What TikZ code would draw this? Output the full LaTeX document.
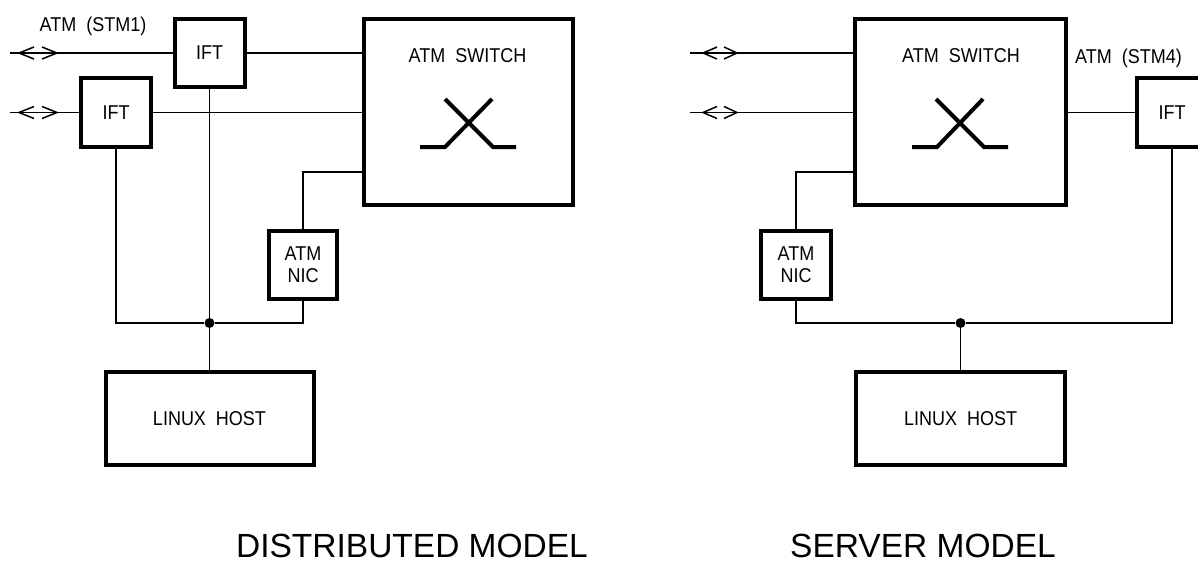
\documentclass[tikz,border=0pt]{standalone}
\usepackage{fontspec}
\setmainfont{Liberation Sans}
\newfontfamily\cadfont{Liberation Sans}[FakeStretch=0.9]
\begin{document}
\begin{tikzpicture}[x=1pt,y=-1pt,
  wire/.style={line width=1.7pt},
  box/.style={draw, rectangle, line width=4pt, inner sep=0pt, align=center,
    font=\cadfont\fontsize{20}{22}\selectfont},
  swbox/.style={draw, rectangle, line width=3.5pt, inner sep=0pt},
  dot/.style={circle, fill, inner sep=0pt, minimum size=10pt},
  xsym/.style={line width=4pt, line cap=butt, line join=miter},
  chev/.style={line width=1.5pt},
  lbl/.style={inner sep=0pt, font=\cadfont\fontsize{20}{22}\selectfont},
  ttl/.style={inner sep=0pt, font=\fontsize{33.5}{36}\selectfont}]
\useasboundingbox (0,0) rectangle (1198,562);
\clip (0,0) rectangle (1198,562);
\fill[white] (0,0) rectangle (1198,562);
\coordinate (y172) at (0,172);
\coordinate (y323) at (0,323);
% ---------- distributed model ----------
\node[box, minimum width=70pt, minimum height=68pt] (ift1) at (209.5,53) {IFT};
\node[box, minimum width=70pt, minimum height=69pt] (ift2) at (116,112.5) {IFT};
\node[swbox, minimum width=209pt, minimum height=186pt] (sw1) at (468.5,112) {};
\node[box, minimum width=68pt, minimum height=68pt] (nic1) at (303,265) {ATM\\NIC};
\node[box, minimum width=208pt, minimum height=93pt] (host1) at (209.5,418.5) {LINUX~~HOST};
\node[dot] (jd1) at (ift1.south |- y323) {};
\coordinate (la1) at (10,53);
\coordinate (la2) at (10,112.5);
\draw[wire] (la1) -- (ift1.west);
\draw[wire] (la2) -- (ift2.west);
\draw[chev, shift={(la1)}] (24,-6) -- (9,0) -- (24,6) (32,-6) -- (47,0) -- (32,6);
\draw[chev, shift={(la2)}] (24,-6) -- (9,0) -- (24,6) (32,-6) -- (47,0) -- (32,6);
\draw[wire] (ift1.east) -- (ift1.east -| sw1.west);
\draw[wire] (ift2.east) -- (ift2.east -| sw1.west);
\draw[wire] (nic1.north) |- (sw1.west |- y172);
\draw[wire] (ift2.south) |- (jd1);
\draw[wire] (nic1.south) |- (jd1);
\draw[wire] (ift1.south) -- (jd1) -- (host1.north);
\draw[xsym, shift={(sw1.center)}] (-48.5,35) -- (-23.5,35) -- (23.5,-13)
   (-23.5,-13) -- (24.5,35) -- (47.5,35);
\node[lbl, anchor=base] (swl1) at (467.5,62) {ATM~~SWITCH};
\node[lbl, anchor=base] (stm1) at (93,31) {ATM~~(STM1)};
\node[ttl, anchor=base] (t1) at (412,557) {DISTRIBUTED MODEL};
% ---------- server model ----------
\node[swbox, minimum width=211pt, minimum height=186pt] (sw2) at (960.5,112) {};
\node[box, minimum width=70pt, minimum height=69pt] (ift3) at (1172,112.5) {IFT};
\node[box, minimum width=70pt, minimum height=68pt] (nic2) at (796,265) {ATM\\NIC};
\node[box, minimum width=209pt, minimum height=93pt] (host2) at (960.5,418.5) {LINUX~~HOST};
\node[dot] (jd2) at (host2.north |- y323) {};
\coordinate (ra1) at (690,53);
\coordinate (ra2) at (690,112.5);
\draw[wire] (ra1) -- (ra1 -| sw2.west);
\draw[wire] (ra2) -- (ra2 -| sw2.west);
\draw[chev, shift={(ra1)}] (27,-6) -- (13,0) -- (27,6) (34,-6) -- (47,0) -- (34,6);
\draw[chev, shift={(ra2)}] (27,-6) -- (13,0) -- (27,6) (34,-6) -- (47,0) -- (34,6);
\draw[wire] (ift3.west -| sw2.east) -- (ift3.west);
\draw[wire] (nic2.north) |- (sw2.west |- y172);
\draw[wire] (nic2.south) |- (jd2) -| (ift3.south);
\draw[wire] (jd2) -- (host2.north);
\draw[xsym, shift={(sw2.center)}] (-48.5,35) -- (-23.5,35) -- (22.5,-13)
   (-24.5,-13) -- (23.5,35) -- (47.5,35);
\node[lbl, anchor=base] (swl2) at (961,62) {ATM~~SWITCH};
\node[lbl, anchor=base west] (stm4) at (1075,63) {ATM~~(STM4)};
\node[ttl, anchor=base] (t2) at (923,557) {SERVER MODEL};
\end{tikzpicture}
\end{document}
